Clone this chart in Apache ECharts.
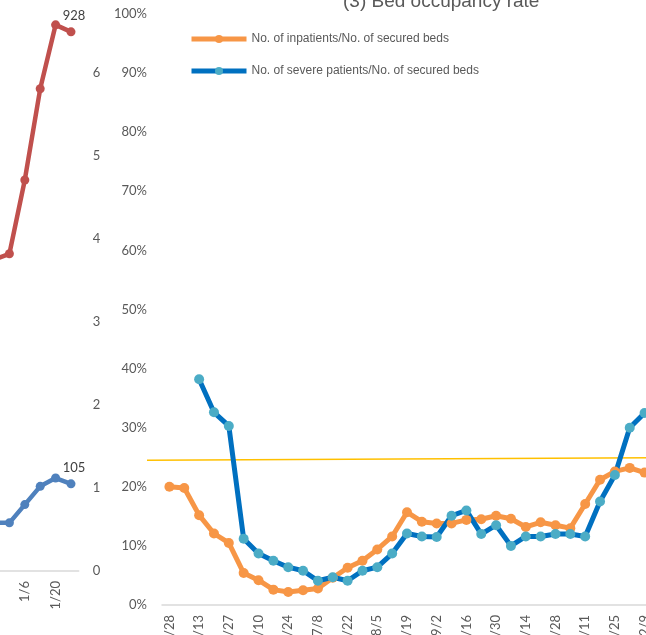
<!DOCTYPE html>
<html>
<head>
<meta charset="utf-8">
<script src="https://cdn.jsdelivr.net/npm/echarts@6/dist/echarts.min.js"></script>
<style>
  html, body { margin: 0; padding: 0; background: #fff; overflow: hidden; }
  /* chart is larger than the window; its edges hang off screen like the cropped original */
  #chart { width: 700px; height: 675px; margin-left: -30px; margin-top: -20px; }
</style>
</head>
<body>
<div id="chart"></div>
<script>
// left (partly hidden) chart
var leftDates = ['12/23', '12/30', '1/6', '1/13', '1/20', '1/27'];
var leftRed = [536, 546, 673, 830, 940, 928];
var leftBlue = [58, 58, 80, 102, 112, 105];

// (3) bed occupancy rate
var rateDates = ['4/28', '5/6', '5/13', '5/20', '5/27', '6/3', '6/10', '6/17', '6/24', '7/1',
    '7/8', '7/15', '7/22', '7/29', '8/5', '8/12', '8/19', '8/26', '9/2', '9/9',
    '9/16', '9/23', '9/30', '10/7', '10/14', '10/21', '10/28', '11/4', '11/11', '11/18',
    '11/25', '12/2', '12/9'];
var inpatientRate = [20.0, 19.8, 15.2, 12.1, 10.5, 5.4, 4.2, 2.6, 2.2, 2.5,
    2.8, 4.6, 6.3, 7.5, 9.4, 11.6, 15.7, 14.1, 13.8, 13.8,
    14.4, 14.5, 15.1, 14.6, 13.2, 14.0, 13.5, 13.0, 17.1, 21.2,
    22.6, 23.2, 22.4];
var severeRate = [null, null, 38.2, 32.6, 30.3, 11.2, 8.7, 7.5, 6.4, 5.8,
    4.1, 4.7, 4.1, 5.8, 6.4, 8.7, 12.1, 11.6, 11.5, 15.1,
    16.0, 12.0, 13.5, 10.0, 11.6, 11.6, 12.0, 12.0, 11.6, 17.5,
    22.0, 30.0, 32.5];
// reference line, start and end level (%)
var yellowY = [24.5, 24.9];

var labelFont = 'Lato';
var grey = '#595959';

function lastLabeled(arr) {
    return arr.map(function (v, i) {
        if (i === arr.length - 1) {
            return {value: v, label: {show: true}};
        }
        return v;
    });
}

var chart = echarts.init(document.getElementById('chart'));
var option = {
    animation: false,
    title: {
        text: '(3) Bed occupancy rate',
        left: 373,
        top: 12,
        padding: 0,
        textStyle: {fontFamily: 'Liberation Sans', fontSize: 19, fontWeight: 'normal', color: grey}
    },
    legend: {
        data: ['No. of inpatients/No. of secured beds', 'No. of severe patients/No. of secured beds'],
        orient: 'vertical',
        left: 219,
        top: 53,
        padding: 0,
        itemWidth: 55,
        itemHeight: 10,
        itemGap: 20,
        itemTextGap: 2,
        lineStyle: {width: 5},
        textStyle: {fontFamily: 'Liberation Sans', fontSize: 12, color: grey}
    },
    grid: [
        {left: 16.3, right: 591.3, top: 10, bottom: 84},
        {left: 192, right: 18, top: 34, bottom: 50},
        {left: 177, right: 18, top: 34, bottom: 50}
    ],
    xAxis: [
        {
            gridIndex: 0,
            type: 'category',
            data: leftDates,
            axisLine: {lineStyle: {color: '#d9d9d9', width: 1.5}},
            axisTick: {show: false},
            axisLabel: {rotate: 90, interval: 1, margin: 10, fontFamily: labelFont, fontSize: 13, color: grey}
        },
        {
            gridIndex: 1,
            type: 'category',
            data: rateDates,
            axisLine: {lineStyle: {color: '#d9d9d9', width: 1.5}},
            axisTick: {show: false},
            axisLabel: {rotate: 90, interval: 1, margin: 10, fontFamily: labelFont, fontSize: 13, color: grey}
        },
        {
            gridIndex: 2,
            type: 'value',
            min: 0,
            max: 1,
            show: false
        }
    ],
    yAxis: [
        {
            gridIndex: 0,
            type: 'value',
            min: 0,
            max: 1000,
            show: false
        },
        {
            gridIndex: 0,
            type: 'value',
            position: 'right',
            min: 0,
            max: 700,
            interval: 100,
            axisLine: {show: false},
            axisTick: {show: false},
            splitLine: {show: false},
            axisLabel: {
                margin: 14,
                fontFamily: labelFont,
                fontSize: 13,
                color: grey,
                formatter: function (v) { return String(v / 100); }
            }
        },
        {
            gridIndex: 1,
            type: 'value',
            min: 0,
            max: 100,
            interval: 10,
            axisLine: {show: false},
            axisTick: {show: false},
            splitLine: {show: false},
            axisLabel: {margin: 15, fontFamily: labelFont, fontSize: 13, color: grey, formatter: '{value}%'}
        },
        {
            gridIndex: 2,
            type: 'value',
            min: 0,
            max: 100,
            show: false
        }
    ],
    series: [
        {
            name: 'left-red',
            type: 'line',
            xAxisIndex: 0,
            yAxisIndex: 0,
            data: lastLabeled(leftRed),
            symbol: 'circle',
            symbolSize: 9,
            showAllSymbol: true,
            lineStyle: {color: '#C0504D', width: 4.5},
            itemStyle: {color: '#C0504D'},
            label: {show: false, position: 'top', offset: [3, 0], fontFamily: labelFont, fontSize: 13, color: '#404040'}
        },
        {
            name: 'left-blue',
            type: 'line',
            xAxisIndex: 0,
            yAxisIndex: 1,
            data: lastLabeled(leftBlue),
            symbol: 'circle',
            symbolSize: 9,
            showAllSymbol: true,
            lineStyle: {color: '#4F81BD', width: 4.5},
            itemStyle: {color: '#4F81BD'},
            label: {show: false, position: 'top', offset: [3, 0], fontFamily: labelFont, fontSize: 13, color: '#404040'}
        },
        {
            name: 'yellow',
            type: 'line',
            xAxisIndex: 2,
            yAxisIndex: 3,
            data: [[0, yellowY[0]], [1, yellowY[1]]],
            symbol: 'none',
            silent: true,
            lineStyle: {color: '#FFC000', width: 1.5},
            z: 1
        },
        {
            name: 'No. of inpatients/No. of secured beds',
            type: 'line',
            xAxisIndex: 1,
            yAxisIndex: 2,
            data: inpatientRate,
            symbol: 'circle',
            symbolSize: 10,
            showAllSymbol: true,
            lineStyle: {color: '#F79646', width: 5},
            itemStyle: {color: '#F79646'}
        },
        {
            name: 'No. of severe patients/No. of secured beds',
            type: 'line',
            xAxisIndex: 1,
            yAxisIndex: 2,
            data: severeRate,
            symbol: 'circle',
            symbolSize: 10,
            showAllSymbol: true,
            lineStyle: {color: '#0070C0', width: 5},
            itemStyle: {color: '#4BACC6'}
        }
    ]
};
chart.setOption(option);
</script>
</body>
</html>
